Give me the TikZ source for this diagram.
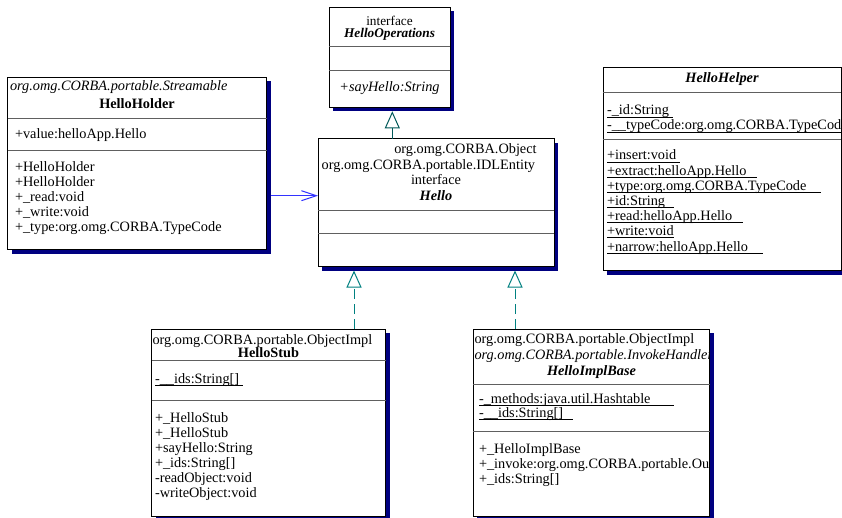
\documentclass[tikz,border=0pt]{standalone}
\usepackage{fontspec}
\setmainfont{Liberation Serif}
\usetikzlibrary{calc,arrows.meta,shadows}

\definecolor{umlnavy}{RGB}{0,0,128}
\definecolor{umldiv}{RGB}{96,96,96}
\definecolor{realteal}{RGB}{0,128,128}
\definecolor{genteal}{RGB}{0,88,88}
\definecolor{assocblue}{RGB}{51,51,255}

\newcommand\umlsize{\fontsize{14.3}{15}\selectfont}
\newcommand\smallhead{\fontsize{13.3}{14}\selectfont}
% underline for static members, running a little past the text
\newcommand\staticul[2]{\setbox0=\hbox{#1}\rlap{\rule[-2.4pt]{\dimexpr\wd0+#2\relax}{0.75pt}}\box0}

\begin{document}
\begin{tikzpicture}[x=1pt,y=-1pt,
  classbox/.style={draw=black, line width=1pt, fill=white, inner sep=0pt, outer sep=0pt,
    anchor=north west,
    drop shadow={shadow xshift=4pt, shadow yshift=-4pt, fill=umlnavy, opacity=1}},
  divider/.style={draw=umldiv, line width=0.9pt},
  txt/.style={anchor=base west, inner sep=0pt, outer sep=0pt, font=\umlsize},
  ctxt/.style={anchor=base, inner sep=0pt, outer sep=0pt, font=\umlsize},
  realize/.style={draw=realteal, line width=1pt, dash pattern=on 10pt off 5pt,
    -{Triangle[open, length=17pt, width=15pt, line width=1pt]}},
  generalize/.style={draw=genteal, line width=1pt,
    -{Triangle[open, length=17pt, width=15pt, line width=1pt]}},
  associate/.style={draw=assocblue, line width=1pt,
    -{Straight Barb[length=15pt, width=10pt, line width=1pt]}}
]
\fill[white] (0,0) rectangle (842,518);
\useasboundingbox (0,0) rectangle (842,518);

% ---------- class boxes ----------
\node[classbox, minimum width=121pt, minimum height=100pt] (ops) at (329,7.3) {};
\node[classbox, minimum width=259pt, minimum height=172.5pt] (holder) at (7.5,77.5) {};
\node[classbox, minimum width=236pt, minimum height=128pt] (hello) at (318,139) {};
\node[classbox, minimum width=238pt, minimum height=203.4pt] (helper) at (603,67.3) {};
\node[classbox, minimum width=234pt, minimum height=187.5pt] (stub) at (151.5,329) {};
\node[classbox, minimum width=236.5pt, minimum height=187.5pt] (impl) at (473,329) {};

% compartment separators
\foreach \b/\d in {ops/39.4, ops/63.4, holder/40.8, holder/72.5, hello/71, hello/94,
                   helper/24.7, helper/71.7, stub/31.5, stub/71, impl/55, impl/102}
  \draw[divider] ($(\b.north west)+(0,\d)$) -- ($(\b.north east)+(0,\d)$);

% ---------- HelloOperations ----------
\node[ctxt, font=\smallhead] (opsst) at (389.5,25.3) {interface};
\node[ctxt, font=\smallhead\bfseries\itshape] (opsnm) at (389.5,37.7) {HelloOperations};
\node[ctxt, font=\umlsize\itshape] (opsop) at (389.5,91.7) {+sayHello:String};

% ---------- HelloHolder ----------
\node[txt, font=\umlsize\itshape] (holderst) at (10,91) {org.omg.CORBA.portable.Streamable};
\node[ctxt, font=\umlsize\bfseries] (holdernm) at (137,109) {HelloHolder};
\node[txt] (holderat) at (15,139) {+value:helloApp.Hello};
\foreach \t [count=\i from 0] in {{+HelloHolder},{+HelloHolder},{+\_read:void},{+\_write:void},{+\_type:org.omg.CORBA.TypeCode}}
  \node[txt] (holderop\i) at (15,171.7+14.85*\i) {\t};

% ---------- Hello ----------
\node[txt] (hellost1) at (394.3,154) {org.omg.CORBA.Object};
\node[txt] (hellost2) at (321.7,169.3) {org.omg.CORBA.portable.IDLEntity};
\node[ctxt] (hellost3) at (436,185) {interface};
\node[ctxt, font=\umlsize\bfseries\itshape] (hellonm) at (436,200.7) {Hello};

% ---------- HelloHelper ----------
\begin{scope}
\clip (helper.north west) rectangle (helper.south east);
\node[ctxt, font=\umlsize\bfseries\itshape] (helpernm) at (722,82.7) {HelloHelper};
\node[txt] (helperat1) at (607,115) {\staticul{-\_id:String}{4pt}};
\node[txt] (helperat2) at (607,130) {\staticul{-\_\_typeCode:org.omg.CORBA.TypeCode}{8pt}};
\foreach \t/\e [count=\i from 0] in {{+insert:void}/4pt, {+extract:helloApp.Hello}/10pt,
    {+type:org.omg.CORBA.TypeCode}/15pt, {+id:String}/9pt, {+read:helloApp.Hello}/11pt,
    {+write:void}/0pt, {+narrow:helloApp.Hello}/15pt}
  \node[txt] (helperop\i) at (607,160+15.17*\i) {\staticul{\t}{\e}};
\end{scope}

% ---------- HelloStub ----------
\begin{scope}
\clip (stub.north west) rectangle (stub.south east);
\node[txt] (stubst) at (152.5,344) {org.omg.CORBA.portable.ObjectImpl};
\node[ctxt, font=\umlsize\bfseries] (stubnm) at (268.5,357.5) {HelloStub};
\node[txt] (stubat) at (155,383.3) {\staticul{-\_\_ids:String[]}{4pt}};
\foreach \t [count=\i from 0] in {{+\_HelloStub},{+\_HelloStub},{+sayHello:String},{+\_ids:String[]},{-readObject:void},{-writeObject:void}}
  \node[txt] (stubop\i) at (155,422.5+14.9*\i) {\t};
\end{scope}

% ---------- HelloImplBase ----------
\begin{scope}
\clip (impl.north west) rectangle (impl.south east);
\node[txt] (implst1) at (474.5,343.3) {org.omg.CORBA.portable.ObjectImpl};
\node[txt, font=\umlsize\itshape] (implst2) at (474.5,359) {org.omg.CORBA.portable.InvokeHandler};
\node[ctxt, font=\umlsize\bfseries\itshape] (implnm) at (591.5,375) {HelloImplBase};
\node[txt] (implat1) at (479,403.3) {\staticul{-\_methods:java.util.Hashtable}{23pt}};
\node[txt] (implat2) at (479,417.7) {\staticul{-\_\_ids:String[]}{10pt}};
\foreach \t [count=\i from 0] in {{+\_HelloImplBase},{+\_invoke:org.omg.CORBA.portable.OutputStream},{+\_ids:String[]}}
  \node[txt] (implop\i) at (479,453.3+15*\i) {\t};
\end{scope}

% ---------- connectors ----------
\coordinate (opsin) at ($(ops.south west)+(63.3,4)$);
\draw[generalize] (hello.north -| opsin) -- (opsin);

\coordinate (stubin) at ($(hello.south west)+(36,3.5)$);
\draw[realize] (stub.north -| stubin) -- (stubin);

\coordinate (implin) at ($(hello.south west)+(197,3.5)$);
\draw[realize] (impl.north -| implin) -- (implin);

\coordinate (helloin) at ($(hello.north west)+(0,56.7)$);
\draw[associate] ($(holder.east |- helloin)+(4,0)$) -- (helloin);

\end{tikzpicture}
\end{document}
